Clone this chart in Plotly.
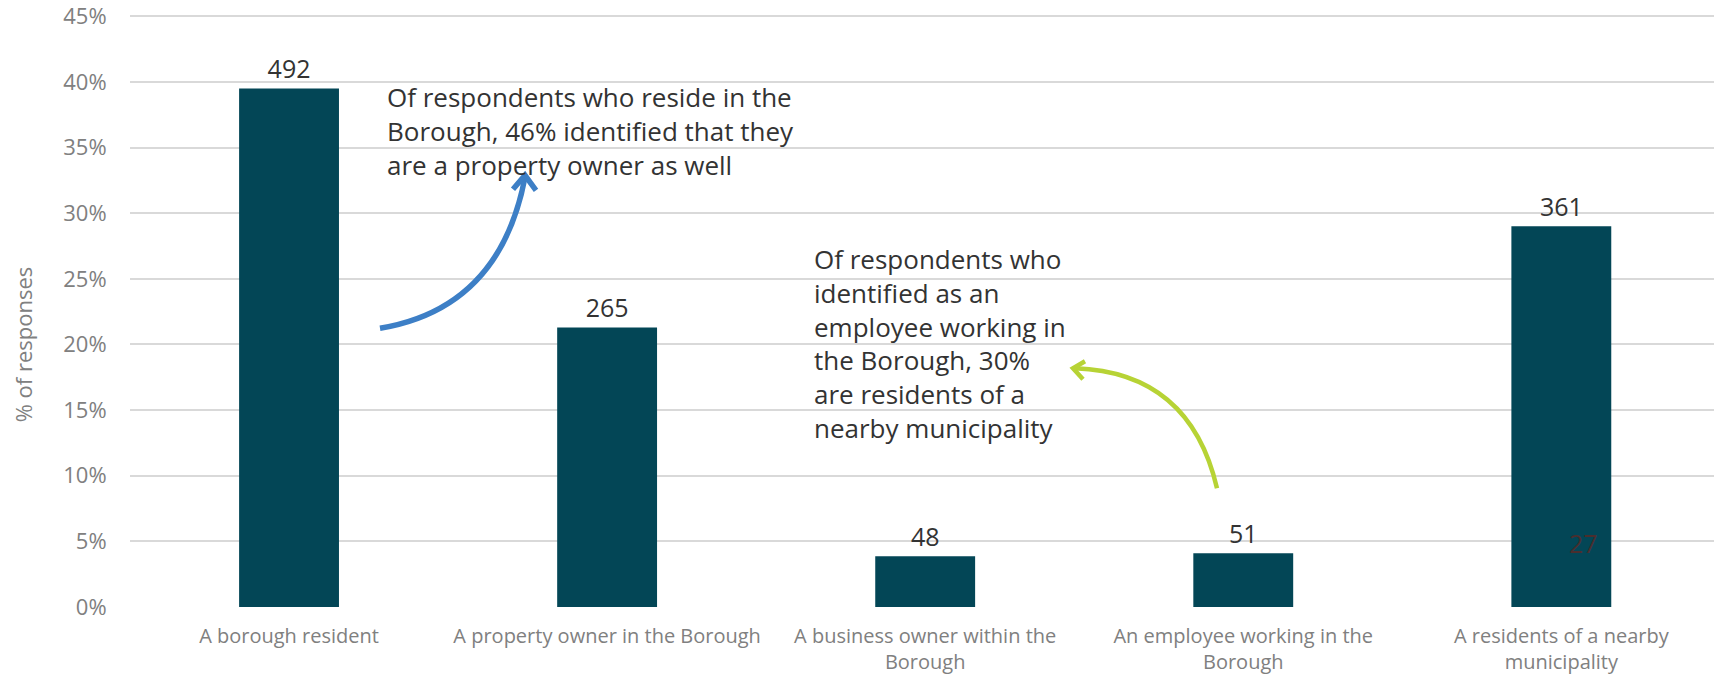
import plotly.graph_objects as go

categories = ["A borough resident", "A property owner in the Borough",
              "A business owner within the<br>Borough", "An employee working in the<br>Borough",
              "A residents of a nearby<br>municipality"]
pct_values = [39.5, 21.3, 3.86, 4.1, 29.0]
counts = ["492", "265", "48", "51", "361"]
y_ticks = [0, 5, 10, 15, 20, 25, 30, 35, 40, 45]
y_tick_labels = [f"{v}%" for v in y_ticks]

note1_lines = ["Of respondents who reside in the",
               "Borough, 46% identified that they",
               "are a property owner as well"]
note2_lines = ["Of respondents who", "identified as an", "employee working in",
               "the Borough, 30%", "are residents of a", "nearby municipality"]

W, H = 1714, 674
YMAX = 45.4
BASE = 606.7                 # pixel of 0%
S = (606.7 - 16.0) / 45.0    # pixels per percent
TOP = BASE - S * YMAX
L, R, T = 130, 0, TOP
B = H - BASE
PW, PH = W - L - R, H - T - B

def px(x):
    return (x - L) / PW

def py(y):
    return (BASE - y) / PH

FONT = "Open Sans"
fig = go.Figure()
fig.add_trace(go.Bar(
    x=categories, y=pct_values, text=counts, textposition="outside",
    textfont=dict(family=FONT, size=25, color="#333333"),
    marker=dict(color="#034656", line=dict(width=0)),
    cliponaxis=False,
))

def quad(p0, c, p1):
    return f"M {px(p0[0])},{py(p0[1])} Q {px(c[0])},{py(c[1])} {px(p1[0])},{py(p1[1])}"

def chevron(a, tip, b):
    return f"M {px(a[0])},{py(a[1])} L {px(tip[0])},{py(tip[1])} L {px(b[0])},{py(b[1])}"

blue = "#3d7fc6"
green = "#b7d335"
shapes = [
    dict(type="path", xref="paper", yref="paper", path=quad((380, 328), (500, 308), (525, 177)),
         line=dict(color=blue, width=5.5)),
    dict(type="path", xref="paper", yref="paper", path=chevron((513, 189), (525, 175), (536, 190)),
         line=dict(color=blue, width=5.5)),
    dict(type="path", xref="paper", yref="paper", path=quad((1217, 488), (1190, 372), (1075, 368)),
         line=dict(color=green, width=4.5)),
    dict(type="path", xref="paper", yref="paper", path=chevron((1085, 361), (1073, 368), (1083, 379)),
         line=dict(color=green, width=4.5)),
]

annotations = [
    dict(xref="paper", yref="paper", x=px(385), y=py(131), xanchor="left", yanchor="middle",
         align="left", showarrow=False, text="<br>".join(note1_lines),
         font=dict(family=FONT, size=26, color="#333333")),
    dict(xref="paper", yref="paper", x=px(812), y=py(343), xanchor="left", yanchor="middle",
         align="left", showarrow=False, text="<br>".join(note2_lines),
         font=dict(family=FONT, size=26, color="#333333")),
    dict(xref="paper", yref="paper", x=px(1583), y=py(543), xanchor="center", yanchor="middle",
         showarrow=False, text="27", font=dict(family=FONT, size=25, color="#4a2e2e")),
    dict(xref="paper", yref="paper", x=px(23), y=py(344), xanchor="center", yanchor="middle",
         showarrow=False, text="% of responses", textangle=-90,
         font=dict(family=FONT, size=22, color="#808080")),
]

fig.update_layout(
    width=W, height=H,
    margin=dict(l=L, r=R, t=T, b=B),
    paper_bgcolor="white", plot_bgcolor="white",
    bargap=0.686, showlegend=False,
    shapes=shapes, annotations=annotations,
    font=dict(family=FONT),
)
fig.update_yaxes(range=[0, YMAX], tickvals=y_ticks, ticktext=y_tick_labels,
                 showgrid=True, gridcolor="#d9d9d9", gridwidth=1.5, zeroline=False,
                 ticks="outside", ticklen=18, tickcolor="rgba(0,0,0,0)",
                 ticklabeloverflow="allow",
                 tickfont=dict(family=FONT, size=22, color="#808080"), showline=False)
fig.update_xaxes(range=[-0.5, 4.48], showgrid=False, showline=False, ticks="outside",
                 ticklen=11, tickcolor="rgba(0,0,0,0)",
                 tickfont=dict(family=FONT, size=20, color="#808080"))

fig.write_html("out.html", config={"displayModeBar": False},
               post_script="document.body.style.margin='0';document.body.style.overflow='hidden';")
